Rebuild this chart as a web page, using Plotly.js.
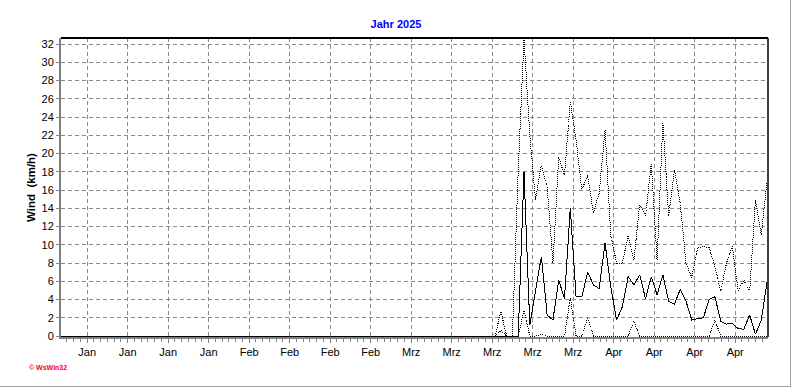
<!DOCTYPE html>
<html>
<head>
<meta charset="utf-8">
<script src="https://cdn.plot.ly/plotly-3.0.1.min.js"></script>
<style>
html,body{margin:0;padding:0;background:#fff;}
#chart{width:792px;height:387px;}
#chart .scatterlayer path.js-line{shape-rendering:crispEdges;}
</style>
</head>
<body>
<div id="chart"></div>
<script>
// Day index (0 = first day shown), one value per day
const days = [...Array(123).keys()];

// Upper dotted series (gusts / max)
const maxWind = [
 0,0,0,0,0,0,0,0,0,0,0,0,0,0,0,
 0,0,0,0,0,0,0,0,0,0,0,0,0,0,0,
 0,0,0,0,0,0,0,0,0,0,0,0,0,0,0,
 0,0,0,0,0,0,0,0,0,0,0,0,0,0,0,
 0,0,0,0,0,0,0,0,0,0,0,0,0,0,0,
 0, 2.7, 0, 0, 18.2, 32.6, 22, 14.9, 18.7, 16.4, 8.0, 19.6, 17.6, 25.7, 21.5, 16.0,
 17.6, 13.5, 15.7, 22.6, 11.0, 8.0, 8.0, 11.0, 8.3, 14.5, 13.1, 18.9, 8.3, 23.5, 13.1, 18.2,
 14.5, 8.0, 6.4, 9.7, 9.8, 9.7, 7.6, 4.9, 8.0, 9.8, 5.0, 6.1, 4.9, 14.9, 11.1, 16.9
];

// Solid series (mean wind)
const meanWind = [
 0,0,0,0,0,0,0,0,0,0,0,0,0,0,0,0,0,0,0,0,
 0,0,0,0,0,0,0,0,0,0,0,0,0,0,0,0,0,0,0,0,
 0,0,0,0,0,0,0,0,0,0,0,0,0,0,0,0,0,0,0,0,
 0,0,0,0,0,0,0,0,0,0,0,0,0,0,0,0,0,0,0,0,
 18.0, 1.2, 5.0, 8.7, 2.3, 1.75, 6.1, 4.1, 14.0, 4.3, 4.3, 7.0, 5.6, 5.2, 10.2,
 5.4, 1.75, 3.2, 6.5, 5.6, 6.7, 4.1, 6.5, 4.5, 6.7, 3.8, 3.5, 5.1, 3.8, 1.75,
 1.9, 2.0, 4.0, 4.3, 1.6, 1.3, 1.4, 0.8, 0.75, 2.3, 0.2, 1.7, 5.9
];

// Lower dotted series (min)
const lowWind = [
 0,0,0,0,0,0,0,0,0,0,0,0,0,0,0,
 0,0,0,0,0,0,0,0,0,0,0,0,0,0,0,
 0,0,0,0,0,0,0,0,0,0,0,0,0,0,0,
 0,0,0,0,0,0,0,0,0,0,0,0,0,0,0,
 0,0,0,0,0,0,0,0,0,0,0,0,0,0,0,
 0, 0.6, 0, 0, 0, 2.8, 0, 0, 0.2, 0, 0, 0, 0, 4.2, 0, 0,
 2.0, 0, 0, 0, 0, 0, 0, 0, 1.6, 0, 0, 0, 0, 0, 0, 0,
 0, 0, 0, 0, 0, 0, 1.75, 0, 0, 0, 0, 0, 0, 0, 0, 0
];

// Axis ticks
const tickDays = [4.5, 11.5, 18.5, 25.5, 32.5, 39.5, 46.5, 53.5, 60.5, 67.5, 74.5, 81.5, 88.5, 95.5, 102.5, 109.5, 116.5];
const tickLabels = ['Jan','Jan','Jan','Jan','Feb','Feb','Feb','Feb','Mrz','Mrz','Mrz','Mrz','Mrz','Apr','Apr','Apr','Apr'];
const yTicks = [0,2,4,6,8,10,12,14,16,18,20,22,24,26,28,30,32];

const xRange = [-0.02, 122.17];
const minorVals = [];
for (let v = tickDays[0] - 7/6*4; v <= xRange[1]; v += 7/6) {
  if (v >= xRange[0] + 0.05) minorVals.push(+v.toFixed(4));
}

const FONT = '"Liberation Sans", Arial, sans-serif';
const gridDash = '4px,3px';

const traces = [
  {x: days, y: lowWind, type: 'scatter', mode: 'lines', name: 'Min',
   line: {color: '#000', width: 1, dash: '1px,1px'}, hoverinfo: 'skip'},
  {x: days, y: maxWind, type: 'scatter', mode: 'lines', name: 'Max',
   line: {color: '#000', width: 1, dash: '1px,1px'}, hoverinfo: 'skip'},
  {x: days, y: meanWind, type: 'scatter', mode: 'lines', name: 'Mittel',
   line: {color: '#000', width: 1}, hoverinfo: 'skip'}
];

const layout = {
  width: 792, height: 387,
  margin: {l: 61, r: 24, t: 38, b: 50, pad: 0},
  paper_bgcolor: '#fff', plot_bgcolor: '#fff',
  showlegend: false,
  font: {family: FONT, size: 11, color: '#000'},
  title: {text: '<b>Jahr 2025</b>', font: {family: FONT, size: 11, color: '#0000ff'},
          x: 0.5, xref: 'container', xanchor: 'center', y: 1 - 24/387, yref: 'container', yanchor: 'middle'},
  xaxis: {
    range: xRange, tickmode: 'array', tickvals: tickDays, ticktext: tickLabels,
    showgrid: true, gridcolor: '#8a8a8a', gridwidth: 1, griddash: gridDash,
    zeroline: false, showline: true, linecolor: '#808080', linewidth: 2,
    ticks: 'outside', ticklen: 4, tickcolor: '#808080', tickwidth: 1,
    tickfont: {family: FONT, size: 11, color: '#000'},
    minor: {tickmode: 'array', tickvals: minorVals, ticks: 'outside', ticklen: 3, tickcolor: '#808080', showgrid: false},
    layer: 'below traces', fixedrange: true
  },
  yaxis: {
    range: [-0.11, 32.658], tickmode: 'array', tickvals: yTicks,
    showgrid: true, gridcolor: '#8a8a8a', gridwidth: 1, griddash: gridDash,
    zeroline: false, showline: true, linecolor: '#808080', linewidth: 2,
    ticks: 'outside', ticklen: 3, tickcolor: '#808080', tickwidth: 1,
    tickfont: {family: FONT, size: 11, color: '#000'},
    title: {text: '<b>Wind\u00a0\u00a0(km/h)</b>', font: {family: FONT, size: 11.5, color: '#000'}, standoff: 4},
    layer: 'below traces', fixedrange: true
  },
  shapes: [
    {type: 'line', xref: 'paper', yref: 'paper', x0: 0, x1: 1, y0: 1, y1: 1, line: {color: '#000', width: 2}},
    {type: 'line', xref: 'paper', yref: 'paper', x0: 1, x1: 1, y0: 0, y1: 1, line: {color: '#000', width: 1.5}},
    {type: 'line', xref: 'paper', yref: 'paper', x0: -61/707, x1: 730/707, y0: -49.5/299, y1: -49.5/299, line: {color: '#a0a0a0', width: 1}},
    {type: 'line', xref: 'paper', yref: 'paper', x0: 729.5/707, x1: 729.5/707, y0: -50/299, y1: 338/299, line: {color: '#a0a0a0', width: 1}}
  ],
  annotations: [
    {text: '<b>© WsWin32</b>', xref: 'paper', yref: 'paper', x: -34/707, y: -30.5/299,
     xanchor: 'left', yanchor: 'middle', showarrow: false, font: {family: FONT, size: 7, color: '#ff0000'}}
  ]
};

Plotly.newPlot('chart', traces, layout, {staticPlot: true, displayModeBar: false});
</script>
</body>
</html>
